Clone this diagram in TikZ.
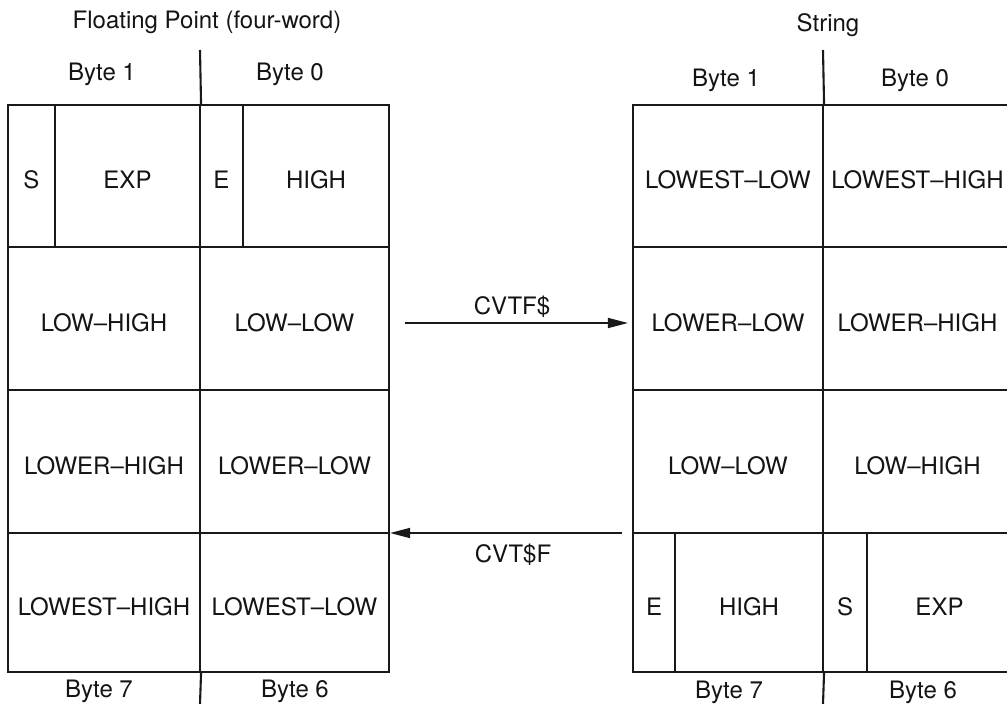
\documentclass[tikz,border=0pt]{standalone}
\usepackage{fontspec}
\setmainfont{TeX Gyre Heros}
\usetikzlibrary{arrows.meta}
\newcommand\mkcell[6]{%
  \node[cell, minimum width={#4pt-#2pt}, minimum height={#5pt-#3pt}] (#1) at ({(#2+#4)/2},{(#3+#5)/2}) {#6};}
\begin{document}
\begin{tikzpicture}[x=1pt,y=-1pt,
  cell/.style={draw=black!90, line width=2.1pt, inner sep=0pt, text height=25pt, text depth=0pt,
    font=\fontsize{24}{28}\selectfont, text=black!92},
  lbl/.style={anchor=base, inner sep=0pt, font=\fontsize{24}{28}\selectfont, text=black!92},
  rulel/.style={draw=black!90, line width=2.1pt},
  conv/.style={draw=black!90, line width=1.6pt, -{Triangle[length=20pt,width=10pt]}},
]
\useasboundingbox (0,0) rectangle (1007,704);
\begin{scope}
\clip (0,0) rectangle (1007,704);
% left table (floating point)
\mkcell{LS}{8}{105}{55}{247}{S}
\mkcell{LEXP}{55}{105}{200}{247}{EXP}
\mkcell{LE}{200}{105}{243}{247}{E}
\mkcell{LHIGH}{243}{105}{389}{247}{HIGH}
\mkcell{L2a}{8}{247}{200}{390}{LOW–HIGH}
\mkcell{L2b}{200}{247}{389}{390}{LOW–LOW}
\mkcell{L3a}{8}{390}{200}{533}{LOWER–HIGH}
\mkcell{L3b}{200}{390}{389}{533}{LOWER–LOW}
\mkcell{L4a}{8}{533}{200}{672}{LOWEST–HIGH}
\mkcell{L4b}{200}{533}{389}{672}{LOWEST–LOW}
% right table (string)
\mkcell{R1a}{633}{105}{823}{247}{LOWEST–LOW}
\mkcell{R1b}{823}{105}{1012}{247}{LOWEST–HIGH}
\mkcell{R2a}{633}{247}{823}{390}{LOWER–LOW}
\mkcell{R2b}{823}{247}{1012}{390}{LOWER–HIGH}
\mkcell{R3a}{633}{390}{823}{533}{LOW–LOW}
\mkcell{R3b}{823}{390}{1012}{533}{LOW–HIGH}
\mkcell{RE}{633}{533}{675}{672}{E}
\mkcell{RHIGH}{675}{533}{823}{672}{HIGH}
\mkcell{RS}{823}{533}{867}{672}{S}
\mkcell{REXP}{867}{533}{1012}{672}{EXP}
% byte column dividers
\coordinate (ltop) at (200,50);
\coordinate (lbot) at (200,704);
\coordinate (rtop) at (823,50);
\coordinate (rbot) at (823,704);
\draw[rulel] (ltop) -- (LEXP.north east);
\draw[rulel] (L4a.south east) -- (lbot);
\draw[rulel] (rtop) -- (R1a.north east);
\draw[rulel] (RHIGH.south east) -- (rbot);
\end{scope}
% titles
\node[lbl] (tfp) at (207,28) {Floating Point (four-word)};
\node[lbl] (tstr) at (828,31) {String};
% byte labels
\node[lbl] (lb1) at (102,80) {Byte 1};
\node[lbl] (lb0) at (290,80) {Byte 0};
\node[lbl] (lb7) at (99,697) {Byte 7};
\node[lbl] (lb6) at (295,697) {Byte 6};
\node[lbl] (rb1) at (726,86) {Byte 1};
\node[lbl] (rb0) at (915,86) {Byte 0};
\node[lbl] (rb7) at (729,698) {Byte 7};
\node[lbl] (rb6) at (923,698) {Byte 6};
% conversions
\coordinate (f1) at (405,323);
\coordinate (f2) at (622,533);
\draw[conv, shorten >=4pt] (f1) -- (f1 -| R2a.west);
\draw[conv] (f2) -- (f2 -| L4b.east);
\node[lbl] (cvtf) at (512,314) {CVTF\$};
\node[lbl] (cvts) at (513,562) {CVT\$F};
\end{tikzpicture}
\end{document}
